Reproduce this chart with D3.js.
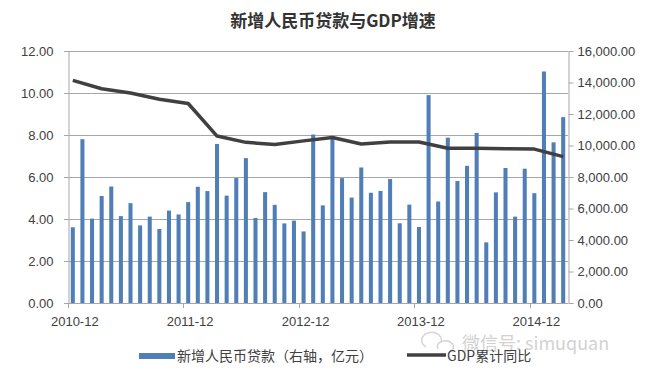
<!DOCTYPE html>
<html>
<head>
<meta charset="utf-8">
<script src="https://cdn.jsdelivr.net/npm/d3@7"></script>
<style>
  body { margin: 0; background: #fff; }
  text { font-family: "Liberation Sans", Arial, sans-serif; fill: #404040; }
  .cjk { font-family: "Noto Sans CJK SC", sans-serif; }
</style>
</head>
<body>
<div id="wrapper"></div>
<script>
// new RMB loans per month (亿元), 2010-12 .. 2015-03
const loans = [
  4807, 10400, 5356, 6794, 7396, 5516, 6339, 4925, 5485, 4700, 5868, 5622,
  6405, 7381, 7107, 10100, 6818, 7932, 9198, 5401, 7039, 6232, 5053, 5229,
  4543, 10700, 6200, 10600, 7929, 6694, 8605, 6999, 7113, 7870, 5061, 6246,
  4825, 13200, 6445, 10500, 7747, 8708, 10800, 3852, 7025, 8572, 5483, 8527,
  6973, 14700, 10200, 11800,
];
// GDP cumulative yoy (%), quarterly
const gdpMonths = [
  "2010-12", "2011-03", "2011-06", "2011-09", "2011-12", "2012-03",
  "2012-06", "2012-09", "2012-12", "2013-03", "2013-06", "2013-09",
  "2013-12", "2014-03", "2014-06", "2014-09", "2014-12", "2015-03",
];
const gdp = [
  10.6, 10.2, 10.0, 9.7, 9.5, 7.95, 7.65, 7.55, 7.72, 7.88, 7.57, 7.67,
  7.67, 7.37, 7.37, 7.35, 7.33, 6.97,
];
const leftTicks = [0, 2, 4, 6, 8, 10, 12];
const rightTicks = [0, 2000, 4000, 6000, 8000, 10000, 12000, 14000, 16000];
const yearTicks = ["2010-12", "2011-12", "2012-12", "2013-12", "2014-12"];

const fmtMonth = d3.timeFormat("%Y-%m");
const months = d3
  .timeMonths(new Date(2010, 11, 1), new Date(2015, 3, 1))
  .map(fmtMonth);

const width = 660;
const height = 371;
const plot = { left: 68, right: 568, top: 51, bottom: 303 };

const svg = d3
  .select("#wrapper")
  .append("svg")
  .attr("width", width)
  .attr("height", height);

// scales
const x = d3
  .scaleBand()
  .domain(months)
  .range([plot.left, plot.right])
  .paddingInner(0.58)
  .paddingOuter(0.29);
const xCenter = (m) => x(m) + x.bandwidth() / 2;
const yLeft = d3.scaleLinear().domain([0, 12]).range([plot.bottom, plot.top]);
const yRight = d3
  .scaleLinear()
  .domain([0, 16000])
  .range([plot.bottom, plot.top]);

// title
svg
  .append("text")
  .attr("class", "cjk")
  .attr("x", 333)
  .attr("y", 27)
  .attr("text-anchor", "middle")
  .style("font-size", "17px")
  .style("font-weight", "bold")
  .style("fill", "#333")
  .text("新增人民币贷款与GDP增速");

// gridlines
svg
  .append("g")
  .selectAll("line")
  .data(leftTicks)
  .join("line")
  .attr("x1", plot.left - 4)
  .attr("x2", plot.right)
  .attr("y1", (d) => yLeft(d) + 0.5)
  .attr("y2", (d) => yLeft(d) + 0.5)
  .attr("stroke", "#a6a6a6")
  .attr("stroke-width", 1);

// left axis
const leftAxis = svg
  .append("g")
  .attr("transform", `translate(${plot.left + 0.5},0)`)
  .call(
    d3
      .axisLeft(yLeft)
      .tickValues(leftTicks)
      .tickFormat(d3.format(".2f"))
      .tickSize(0)
      .tickPadding(15)
  );
leftAxis.select(".domain").attr("stroke", "#a6a6a6");
leftAxis.selectAll("text").style("font-size", "13px").attr("fill", "#404040");

// right axis
const rightAxis = svg
  .append("g")
  .attr("transform", `translate(${plot.right + 0.5},0)`)
  .call(
    d3
      .axisRight(yRight)
      .tickValues(rightTicks)
      .tickFormat(d3.format(",.2f"))
      .tickSize(5)
      .tickPadding(4)
  );
rightAxis.select(".domain").attr("stroke", "#a6a6a6");
rightAxis.selectAll("line").attr("stroke", "#a6a6a6");
rightAxis.selectAll("text").style("font-size", "13px").attr("fill", "#404040");

// bars
svg
  .append("g")
  .selectAll("rect")
  .data(loans)
  .join("rect")
  .attr("x", (d, i) => x(months[i]))
  .attr("y", (d) => yRight(d))
  .attr("width", x.bandwidth())
  .attr("height", (d) => plot.bottom - yRight(d))
  .attr("fill", "#4f7fb6");

// bottom axis
const bottom = svg.append("g");
bottom
  .append("line")
  .attr("x1", plot.left)
  .attr("x2", plot.right)
  .attr("y1", plot.bottom + 0.5)
  .attr("y2", plot.bottom + 0.5)
  .attr("stroke", "#a6a6a6");
bottom
  .selectAll(".tick")
  .data(yearTicks)
  .join("line")
  .attr("class", "tick")
  .attr("x1", (d) => Math.round(x(d) - x.step() * x.paddingInner() / 2) + 0.5)
  .attr("x2", (d) => Math.round(x(d) - x.step() * x.paddingInner() / 2) + 0.5)
  .attr("y1", plot.bottom)
  .attr("y2", plot.bottom + 5)
  .attr("stroke", "#a6a6a6");
bottom
  .selectAll(".label")
  .data(yearTicks)
  .join("text")
  .attr("class", "label")
  .attr("x", (d) => xCenter(d) + 2)
  .attr("y", plot.bottom + 23)
  .attr("text-anchor", "middle")
  .style("font-size", "13px")
  .text((d) => d);

// GDP line
const line = d3
  .line()
  .x((d, i) => xCenter(gdpMonths[i]))
  .y((d) => yLeft(d));
svg
  .append("path")
  .datum(gdp)
  .attr("d", line)
  .attr("fill", "none")
  .attr("stroke", "#404040")
  .attr("stroke-width", 3.5)
  .attr("stroke-linejoin", "round");

// watermark (wechat mark + account name)
const mark = svg.append("g").attr("fill", "none").attr("stroke", "#d6d6d6").attr("stroke-width", 1.5);
mark.append("path").attr("d", "M426,347 A10,8 0 1 1 441,343");
mark.append("path").attr("d", "M438,349 A8,6 0 1 1 452,350");
svg
  .append("text")
  .attr("class", "cjk")
  .attr("x", 462)
  .attr("y", 350)
  .style("font-size", "18px")
  .style("fill", "#d2d2d2")
  .text("微信号: simuquan");

// legend
const legend = svg.append("g");
legend
  .append("rect")
  .attr("x", 139)
  .attr("y", 353)
  .attr("width", 36)
  .attr("height", 6)
  .attr("fill", "#4f7fb6");
legend
  .append("text")
  .attr("class", "cjk")
  .attr("x", 177)
  .attr("y", 361)
  .style("font-size", "14px")
  .text("新增人民币贷款（右轴，亿元）");
legend
  .append("line")
  .attr("x1", 407)
  .attr("x2", 446)
  .attr("y1", 355)
  .attr("y2", 355)
  .attr("stroke", "#404040")
  .attr("stroke-width", 3.5);
legend
  .append("text")
  .attr("class", "cjk")
  .attr("x", 447)
  .attr("y", 361)
  .style("font-size", "14px")
  .text("GDP累计同比");
</script>
</body>
</html>
